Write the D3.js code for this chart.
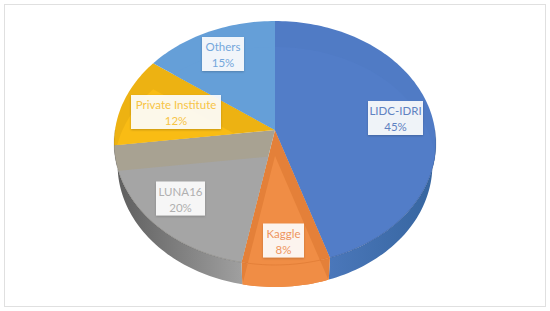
<!DOCTYPE html>
<html>
 <head>
  <title>Pie</title>
  <script src="https://cdnjs.cloudflare.com/ajax/libs/d3/7.8.3/d3.min.js"></script>
  <style>
   html, body { margin: 0; padding: 0; background: #fff; }
   svg { display: block; }
  </style>
 </head>
 <body>
  <script>
   const names = ["LIDC-IDRI", "Kaggle", "LUNA16", "Private Institute", "Others"];
   const shares = [45, 8, 20, 12, 15];

   const faceColors = ["#527dc8", "#f08d45", "#a5a5a5", "#f9bc14", "#659fd8"];
   const rimColors = ["#507bc5", "#e48039", "#a8a292", "#edb212", "#659fd8"];
   const wallLight = ["#4a77ba", "#ec8a44", "#a0a0a0", "#d9a510", "#5f96cc"];
   const wallDark = ["#36659f", "#e07a2f", "#5f5f5f", "#a07c0c", "#41719c"];
   const textColors = ["#5f82c2", "#ee9560", "#b0b0b0", "#f7c445", "#74a7dc"];

   const w = 550;
   const h = 311;

   // tilted disc, circle goes through a perspective map so the apex sits above the ellipse centre
   const apexX = 275, apexY = 130;
   const rx = 160, ry = 120.6, tilt = 0.1065;
   const depth = 22, bevel = 26;

   function project(a, r, dy) {
    const x = Math.sin(a), y = Math.cos(a);
    const q = 1 + tilt * y;
    return [apexX + r * rx * x / q, apexY - ry * y / q + dy];
   }
   function edge(a0, a1, r, dy) {
    const n = Math.max(2, Math.ceil((a1 - a0) * 40));
    return d3.range(n + 1).map(i => project(a0 + (a1 - a0) * i / n, r, dy));
   }
   const line = d3.line();
   function sector(d, dy) {
    return line([[apexX, apexY + dy]].concat(edge(d.startAngle, d.endAngle, 1, dy))) + "Z";
   }
   function wall(d) {
    const from = Math.max(d.startAngle, Math.PI / 2 + 0.05);
    const to = Math.min(d.endAngle, Math.PI * 1.5 - 0.05);
    if (to <= from) return null;
    const top = edge(from, to, 1, 0);
    const bottom = edge(from, to, 0.978, depth).reverse();
    return line(top.concat(bottom)) + "Z";
   }

   const svg = d3.select("body")
                 .append("svg")
                 .attr("width", w)
                 .attr("height", h)
                 .style("font-family", "Lato, 'Open Sans', sans-serif");
   const defs = svg.append("defs");

   const blur = defs.append("filter").attr("id", "box-shadow")
                    .attr("x", "-20%").attr("y", "-20%").attr("width", "140%").attr("height", "140%");
   blur.append("feDropShadow").attr("dx", 0).attr("dy", 1).attr("stdDeviation", 1)
       .attr("flood-color", "#000").attr("flood-opacity", 0.22);

   svg.append("rect")
      .attr("x", 4.5).attr("y", 4.5)
      .attr("width", w - 9).attr("height", h - 9)
      .attr("fill", "#fff")
      .attr("stroke", "#e0e0e0");

   const pie = d3.pie().sort(null).value(d => d);
   const arcs = pie(shares);

   arcs.forEach((d, i) => {
    const g = defs.append("linearGradient").attr("id", "wall-" + i)
                  .attr("gradientUnits", "userSpaceOnUse")
                  .attr("x1", i == 0 ? 330 : 118).attr("x2", i == 0 ? 436 : 243)
                  .attr("y1", 0).attr("y2", 0);
    g.append("stop").attr("offset", 0).attr("stop-color", i == 0 ? wallLight[i] : wallDark[i]);
    g.append("stop").attr("offset", 1).attr("stop-color", i == 0 ? wallDark[i] : wallLight[i]);
    defs.append("clipPath").attr("id", "clip-" + i)
        .append("path").attr("d", sector(d, 0));
   });
   const wallClip = defs.append("clipPath").attr("id", "clip-kaggle-wall");
   wallClip.append("path").attr("d", sector(arcs[1], 0));
   wallClip.append("path").attr("d", wall(arcs[1]));

   // side of the disc
   svg.append("g").selectAll("path")
      .data(arcs.filter(d => wall(d)))
      .enter()
      .append("path")
      .attr("d", wall)
      .attr("fill", d => d.index == 1 ? rimColors[1] : "url(#wall-" + d.index + ")");

   // top face, rim colour first then the face shifted down over it
   svg.append("g").selectAll("path")
      .data(arcs)
      .enter()
      .append("path")
      .attr("d", d => sector(d, 0))
      .attr("fill", (d, i) => rimColors[i]);
   svg.append("g").selectAll("path")
      .data(arcs)
      .enter()
      .append("path")
      .attr("d", d => sector(d, bevel))
      .attr("fill", (d, i) => faceColors[i])
      .attr("clip-path", (d, i) => i == 1 ? "url(#clip-kaggle-wall)" : "url(#clip-" + i + ")");

   // thin seam where the top face meets the side
   svg.append("g").selectAll("path")
      .data(arcs.filter(d => wall(d)))
      .enter()
      .append("path")
      .attr("d", d => line(edge(Math.max(d.startAngle, Math.PI / 2), Math.min(d.endAngle, Math.PI * 1.5), 1, 0)))
      .attr("fill", "none")
      .attr("stroke", d => d.index == 1 ? "#d9752e" : "#000")
      .attr("stroke-opacity", d => d.index == 1 ? 0.7 : 0.14)
      .attr("stroke-width", 0.8);

   const labelCentres = [[395.5, 118], [283.5, 240.5], [180.5, 198.5], [176, 112], [223, 54]];
   const labelWidths = [55, 41, 49, 90, 42];

   const labels = svg.append("g").selectAll("g")
                     .data(names)
                     .enter()
                     .append("g")
                     .attr("transform", (d, i) => "translate(" + labelCentres[i] + ")");
   labels.append("rect")
         .attr("x", (d, i) => -labelWidths[i] / 2)
         .attr("y", -17)
         .attr("width", (d, i) => labelWidths[i])
         .attr("height", 34)
         .attr("fill", "#fff")
         .attr("fill-opacity", 0.9)
         .attr("filter", "url(#box-shadow)");
   labels.append("text")
         .attr("text-anchor", "middle")
         .attr("y", -3)
         .attr("font-size", 11.5)
         .attr("fill", (d, i) => textColors[i])
         .text(d => d);
   labels.append("text")
         .attr("text-anchor", "middle")
         .attr("y", 13)
         .attr("font-size", 11.5)
         .attr("fill", (d, i) => textColors[i])
         .text((d, i) => shares[i] + "%");
  </script>
 </body>
</html>
